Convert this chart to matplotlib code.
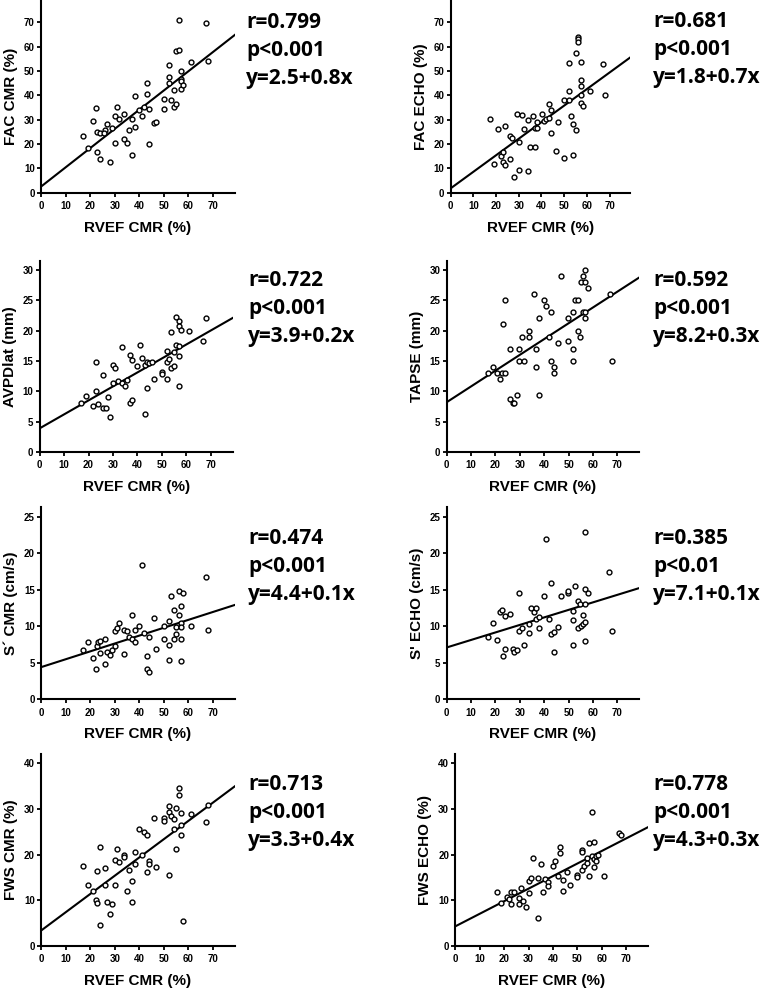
import numpy as np
import matplotlib
matplotlib.use("Agg")
import matplotlib.pyplot as plt

# x = RVEF CMR (%)
fac_cmr_x = [17.1, 19.0, 21.1, 22.2, 23.0, 23.0, 23.9, 24.1, 26.0, 25.8, 27.0, 28.1, 29.1, 30.0,
             30.0, 31.0, 31.9, 34.0, 34.0, 35.1, 36.0, 37.0, 37.1, 38.1, 38.1, 40.1, 41.0, 42.0,
             43.0, 43.1, 44.0, 44.0, 46.1, 47.0, 50.0, 50.0, 52.1, 52.1, 52.1, 53.0, 54.0, 54.0,
             55.1, 55.1, 56.1, 56.1, 57.1, 57.0, 57.1, 57.1, 58.0, 61.0, 67.0, 68.1]
fac_cmr_y = [23.5, 18.4, 29.5, 34.7, 16.7, 25.0, 13.7, 24.4, 25.9, 24.7, 28.1, 12.8, 26.4, 31.6,
             20.4, 35.4, 30.2, 32.4, 22.1, 20.3, 25.8, 30.2, 15.4, 39.8, 27.0, 33.9, 31.6, 35.1,
             44.9, 40.4, 34.6, 19.9, 28.8, 29.1, 38.4, 34.6, 52.3, 47.6, 45.2, 38.2, 42.4, 35.1,
             36.5, 58.3, 71.1, 58.7, 50.0, 46.9, 45.8, 42.7, 44.3, 53.9, 69.7, 54.2]

fac_echo_x = [17.1, 19.1, 21.0, 22.1, 23.1, 23.1, 24.1, 24.1, 26.0, 26.0, 27.1, 28.1, 29.1, 30.1,
              30.1, 31.2, 32.2, 34.1, 34.1, 35.1, 36.2, 37.1, 37.2, 38.2, 38.2, 40.1, 41.2, 42.2,
              43.1, 43.1, 44.1, 44.1, 46.2, 47.1, 50.1, 50.1, 52.1, 52.1, 52.1, 53.1, 54.1, 54.1,
              55.1, 55.1, 56.2, 56.2, 56.2, 57.2, 57.2, 57.2, 57.2, 57.2, 58.2, 61.2, 67.2, 68.2]
fac_echo_y = [30.2, 11.7, 26.3, 15.1, 16.6, 12.6, 27.3, 11.5, 23.3, 13.8, 22.6, 6.5, 32.2, 20.9,
              9.4, 31.9, 26.2, 29.7, 9.1, 18.7, 31.7, 18.7, 26.6, 26.6, 28.9, 32.3, 29.6, 30.2,
              36.3, 30.8, 33.8, 24.6, 17.3, 29.1, 37.9, 14.2, 53.2, 41.6, 37.9, 31.7, 28.1, 15.3,
              57.3, 25.9, 64.1, 63.2, 62.1, 53.6, 46.5, 43.7, 40.3, 36.8, 35.5, 42.0, 53.1, 40.0]

avpd_x = [16.8, 18.8, 21.8, 22.9, 23.1, 23.9, 26.1, 26.1, 27.0, 28.0, 28.9, 29.9, 30.8, 29.9,
          31.9, 33.8, 33.8, 34.9, 35.9, 37.0, 37.9, 37.0, 37.9, 40.0, 40.9, 41.9, 43.0, 43.0,
          43.9, 43.9, 44.9, 46.0, 46.9, 49.9, 49.9, 52.0, 52.0, 52.0, 52.9, 53.9, 53.9, 54.9,
          55.0, 55.9, 55.9, 56.9, 56.9, 56.9, 56.9, 56.9, 57.9, 61.0, 67.0, 68.1]
avpd_y = [8.1, 9.3, 7.6, 14.9, 10.1, 7.9, 12.7, 7.2, 7.3, 9.0, 5.8, 14.3, 13.8, 11.3,
          11.7, 17.3, 11.4, 10.8, 11.8, 15.9, 15.2, 8.1, 8.6, 14.2, 17.7, 15.5, 14.3, 6.2,
          14.9, 10.6, 14.7, 14.9, 12.1, 13.2, 12.9, 16.6, 14.9, 12.0, 15.3, 19.7, 13.9, 14.2,
          16.4, 22.3, 17.6, 21.5, 20.7, 17.5, 15.8, 10.9, 20.1, 20.0, 18.3, 22.1]

tapse_x = [16.8, 18.8, 20.8, 21.8, 22.7, 22.9, 23.8, 23.8, 25.9, 25.9, 27.0, 27.8, 28.9, 29.8,
           29.8, 30.8, 31.9, 33.8, 33.8, 35.8, 36.8, 36.8, 37.9, 37.9, 39.8, 40.9, 41.8, 42.8,
           42.8, 43.9, 43.9, 45.8, 46.8, 49.8, 49.8, 51.8, 51.8, 51.8, 52.8, 53.8, 53.8, 54.7,
           54.9, 55.8, 55.8, 56.8, 56.8, 56.8, 56.8, 57.9, 66.9, 68.0]
tapse_y = [13.0, 14.0, 13.0, 12.0, 13.0, 21.0, 25.0, 13.0, 17.0, 8.7, 8.1, 8.1, 9.4, 17.0,
           15.0, 19.0, 15.0, 20.0, 19.0, 26.0, 17.0, 14.0, 22.0, 9.4, 25.0, 24.0, 19.0, 23.0,
           15.0, 14.0, 13.0, 18.0, 29.0, 22.0, 18.2, 23.0, 17.0, 15.0, 25.0, 25.0, 20.0, 19.0,
           28.0, 29.0, 23.0, 30.0, 28.0, 23.0, 22.0, 27.0, 26.0, 15.0]

s_cmr_x = [17.1, 19.0, 21.1, 22.2, 23.0, 23.1, 24.1, 24.1, 26.1, 26.1, 27.0, 28.0, 29.1, 30.0,
           30.0, 31.0, 31.9, 34.0, 34.0, 35.1, 36.0, 37.1, 37.1, 38.1, 38.1, 40.1, 41.0, 42.0,
           43.0, 43.1, 44.0, 44.0, 46.1, 47.0, 50.0, 50.0, 52.1, 52.1, 52.1, 53.0, 54.0, 54.0,
           55.1, 55.1, 56.1, 56.1, 57.1, 57.1, 57.1, 57.1, 57.1, 58.0, 61.0, 67.0, 68.1]
s_cmr_y = [6.75, 7.8, 5.7, 4.15, 7.3, 7.9, 6.3, 8.0, 8.3, 4.9, 6.5, 6.1, 6.8, 7.3,
           9.3, 9.7, 10.4, 6.2, 9.5, 9.3, 8.6, 11.5, 8.2, 9.5, 7.9, 10.1, 18.4, 9.1,
           5.9, 4.1, 3.8, 8.5, 11.1, 6.9, 10.1, 8.2, 10.7, 7.5, 5.4, 14.1, 12.2, 8.2,
           9.9, 9.0, 14.9, 11.5, 12.8, 10.5, 9.9, 8.3, 5.2, 14.6, 10.1, 16.7, 9.5]

s_echo_x = [16.8, 18.8, 20.8, 21.8, 22.7, 22.9, 23.8, 24.0, 25.9, 27.0, 27.8, 28.9, 29.8, 29.8,
            30.8, 31.9, 33.8, 33.8, 34.7, 35.7, 36.8, 36.8, 37.9, 37.9, 39.8, 40.9, 41.8, 42.8,
            42.8, 43.9, 43.9, 45.8, 46.8, 49.8, 49.8, 51.8, 51.8, 51.8, 52.8, 53.8, 53.8, 54.7,
            54.9, 55.8, 55.8, 56.8, 56.8, 56.8, 56.8, 56.8, 57.9, 66.7, 67.8]
s_echo_y = [8.5, 10.4, 8.1, 11.9, 12.3, 5.9, 11.4, 6.9, 11.7, 6.9, 6.5, 6.7, 14.6, 9.3,
            9.7, 7.4, 10.3, 9.1, 12.5, 12.0, 12.5, 11.0, 11.3, 9.8, 14.2, 21.9, 11.0, 15.9,
            9.0, 9.2, 6.5, 9.9, 14.2, 14.6, 14.8, 12.1, 10.9, 7.5, 15.5, 9.7, 13.4, 13.0,
            10.1, 11.5, 10.3, 22.9, 15.1, 13.1, 10.6, 8.0, 14.6, 17.4, 9.3]

fws_cmr_x = [17.1, 19.0, 21.1, 22.2, 23.0, 23.0, 24.1, 24.1, 26.1, 26.1, 27.0, 28.0, 29.1, 30.0,
             30.0, 31.0, 31.9, 34.0, 34.0, 35.1, 36.0, 37.1, 37.1, 38.1, 38.1, 40.1, 41.0, 42.0,
             43.0, 43.1, 44.0, 44.0, 46.1, 47.0, 50.0, 50.0, 52.1, 52.1, 52.1, 53.0, 54.0, 54.0,
             55.1, 55.1, 56.1, 56.1, 57.1, 57.1, 57.1, 58.0, 61.0, 67.0, 68.1]
fws_cmr_y = [17.4, 13.3, 12.0, 10.1, 16.4, 9.5, 21.7, 4.5, 17.0, 13.3, 9.6, 7.0, 9.2, 18.8,
             13.3, 21.3, 18.3, 19.9, 19.4, 12.0, 16.6, 14.2, 9.7, 20.5, 17.9, 25.6, 19.8, 25.0,
             24.2, 16.1, 18.7, 18.0, 28.0, 17.3, 28.0, 27.4, 30.7, 29.3, 15.5, 28.5, 27.8, 25.5,
             30.1, 21.3, 34.5, 33.0, 29.1, 26.4, 24.2, 5.5, 28.8, 27.2, 30.8]

fws_echo_x = [16.9, 18.9, 21.0, 21.9, 23.0, 23.0, 24.0, 25.9, 25.9, 27.0, 27.9, 28.9, 30.0, 30.0,
              30.9, 31.9, 34.0, 34.0, 35.0, 36.0, 36.9, 37.9, 37.9, 39.9, 40.9, 41.9, 42.9, 42.9,
              43.9, 43.9, 45.9, 46.8, 49.8, 49.8, 51.9, 51.9, 51.9, 52.8, 53.8, 53.8, 54.9, 54.9,
              55.8, 55.8, 56.8, 56.8, 56.8, 57.7, 57.7, 58.4, 60.9, 66.9, 67.8]
fws_echo_y = [11.8, 9.5, 10.8, 10.3, 9.2, 11.8, 11.8, 10.4, 9.2, 12.7, 9.9, 8.5, 11.5, 14.2,
              14.8, 19.2, 14.8, 6.1, 17.9, 11.8, 14.6, 14.1, 13.1, 17.4, 18.6, 15.4, 21.6, 20.3,
              14.5, 12.1, 16.1, 13.4, 15.5, 15.0, 20.9, 20.5, 16.6, 17.4, 19.2, 18.1, 22.5, 15.4,
              19.6, 29.4, 19.1, 22.8, 17.2, 19.7, 18.7, 19.9, 15.4, 24.7, 24.2]

# regression lines as drawn (intercept, slope)
fit_lines = [(2.5, 0.79), (1.8, 0.68), (3.9, 0.23), (8.2, 0.26),
             (4.4, 0.108), (7.1, 0.103), (3.36, 0.40), (4.3, 0.275)]

y_labels = ["FAC CMR (%)", "FAC ECHO (%)", "AVPDlat (mm)", "TAPSE (mm)",
            "S\u00b4 CMR (cm/s)", "S' ECHO (cm/s)", "FWS CMR (%)", "FWS ECHO (%)"]
r_texts = ["r=0.799", "r=0.681", "r=0.722", "r=0.592", "r=0.474", "r=0.385", "r=0.713", "r=0.778"]
p_texts = ["p<0.001", "p<0.001", "p<0.001", "p<0.001", "p<0.001", "p<0.01", "p<0.001", "p<0.001"]
eq_texts = ["y=2.5+0.8x", "y=1.8+0.7x", "y=3.9+0.2x", "y=8.2+0.3x",
            "y=4.4+0.1x", "y=7.1+0.1x", "y=3.3+0.4x", "y=4.3+0.3x"]
y_max = [79, 79, 31.5, 31.5, 26.3, 26.3, 42, 42]
y_step = [10, 10, 5, 5, 5, 5, 10, 10]
y_top_tick = [70, 70, 30, 30, 25, 25, 40, 40]

xs = [fac_cmr_x, fac_echo_x, avpd_x, tapse_x, s_cmr_x, s_echo_x, fws_cmr_x, fws_echo_x]
ys = [fac_cmr_y, fac_echo_y, avpd_y, tapse_y, s_cmr_y, s_echo_y, fws_cmr_y, fws_echo_y]

W, H = 761, 990
# axes boxes in pixels: left, top, right, bottom
boxes = [(41, 0.5, 235, 192.7), (450.7, 0.5, 630, 192.7),
         (39.7, 260.7, 232.7, 452), (446.7, 260.7, 639.3, 452),
         (41, 507.3, 235, 699.3), (446.7, 507.3, 639.3, 699.3),
         (41, 754, 235, 946), (455.3, 754, 648.3, 946)]
# text block left x and first baseline y (pixels)
text_pos = [(246, 28), (653, 27), (248, 286), (653, 286),
            (248, 544), (653, 544), (248, 790), (653, 790)]

fig = plt.figure(figsize=(W / 100, H / 100), dpi=100)
lab_font = dict(family="Liberation Sans", weight="bold", size=11)
big_font = dict(family="Open Sans", weight="bold", size=15)

for i in range(8):
    l, t, r, b = boxes[i]
    ax = fig.add_axes([l / W, 1 - b / H, (r - l) / W, (b - t) / H])
    ax.plot(xs[i], ys[i], "o", ms=3.5, mfc="white", mec="black", mew=1.0, zorder=3)
    a, k = fit_lines[i]
    xl = np.array([0, 79])
    ax.plot(xl, a + k * xl, color="black", lw=1.5, zorder=2)
    ax.set_xlim(0, 79)
    ax.set_ylim(0, y_max[i])
    ax.set_xticks(np.arange(0, 71, 10))
    ax.set_yticks(np.arange(0, y_top_tick[i] + 1, y_step[i]))
    for s in ["top", "right"]:
        ax.spines[s].set_visible(False)
    for s in ["left", "bottom"]:
        ax.spines[s].set_linewidth(1.5)
    ax.tick_params(direction="out", length=3, width=1.3, labelsize=7)
    ax.tick_params(axis="x", pad=3)
    ax.tick_params(axis="y", pad=1.5)
    for lab in ax.get_xticklabels() + ax.get_yticklabels():
        lab.set_family("Liberation Sans")
        lab.set_weight("bold")
    ax.set_xlabel("RVEF CMR (%)", **lab_font)
    ax.set_ylabel(y_labels[i], **lab_font)
    wpx, hpx = r - l, b - t
    ax.xaxis.set_label_coords(0.5, -28 / hpx)
    ax.yaxis.set_label_coords(-23 / wpx, 0.5)

    tx, ty = text_pos[i]
    for j, s in enumerate([r_texts[i], p_texts[i], eq_texts[i]]):
        fig.text(tx / W, 1 - (ty + j * 28) / H, s, ha="left", va="baseline", **big_font)

fig.savefig("out.png", dpi=100)
